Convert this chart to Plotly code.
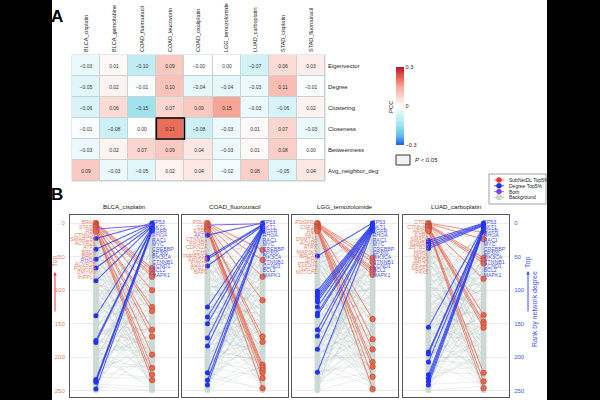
import plotly.graph_objects as go
import numpy as np

W, H = 600, 400
def px(x): return x / W
def py(y): return 1 - y / H

# ---------------- Panel A data ----------------
drugs = ["BLCA_cisplatin", "BLCA_gemcitabine", "COAD_fluorouracil", "COAD_leucovorin",
         "COAD_oxaliplatin", "LGG_temozolomide", "LUAD_carboplatin", "STAD_cisplatin",
         "STAD_fluorouracil"]
metrics = ["Eigenvector", "Degree", "Clustering", "Closeness", "Betweenness", "Avg_neighbor_deg"]
pcc_eigenvector = [-0.03, 0.01, -0.10, 0.09, -0.002, 0.00, -0.07, 0.06, 0.03]
pcc_degree = [-0.05, 0.02, -0.01, 0.10, -0.04, -0.04, -0.03, 0.11, -0.01]
pcc_clustering = [-0.06, 0.06, -0.15, 0.07, 0.09, 0.15, -0.03, -0.06, 0.02]
pcc_closeness = [-0.01, -0.08, 0.00, 0.21, -0.08, -0.03, 0.01, 0.07, -0.03]
pcc_betweenness = [-0.03, 0.02, 0.07, 0.09, 0.04, -0.03, 0.01, 0.08, 0.00]
pcc_avg_neighbor_deg = [0.09, -0.03, -0.05, 0.02, 0.04, -0.02, 0.08, -0.05, 0.04]
significant_cells = [("Closeness", "COAD_leucovorin")]
colorbar_ticks = [-0.3, 0, 0.3]

# ---------------- Panel B data ----------------
panel_titles = ["BLCA_cisplatin", "COAD_fluorouracil", "LGG_temozolomide", "LUAD_carboplatin"]
n_genes = 250
rank_ticks = [0, 50, 100, 150, 200, 250]
degree_genes = ["TP53", "AKT1", "EGFR", "RHOA", "RAC1", "MYC", "CREBBP", "EP300",
                "PIK3CA", "CTNNB1", "CCND1", "BCL2", "MAPK1"]

blca_subnet_genes = ["BRAF", "STAG2", "RB1", "CTNND1", "SMARCB1", "ACVR2A", "ATF7", "BRD4",
                     "BRD7", "RHOA", "ACVR1B", "PDGFRA", "ZMYM3", "INPPL1"]
blca_subnet_degree_rank = [67, 71, 76, 80, 100, 125, 131, 159, 169, 3, 196, 216, 226, 234]
blca_degree_subnet_rank = [23, 39, 54, 9, 67, 86, 138, 175, 178, 233, 235, 237, 247]

coad_subnet_genes = ["POLQ", "CSK", "ESR1", "AKT1", "CTNND1", "PIK3R1", "CDKN2A", "CDH1",
                     "TMPRSS2", "ARID1B", "SOX17", "RTEL1", "BAP1"]
coad_subnet_degree_rank = [40, 55, 80, 1, 115, 169, 177, 211, 215, 219, 223, 231, 246]
coad_degree_subnet_rank = [18, 3, 51, 54, 64, 125, 140, 150, 171, 183, 223, 234, 241]

lgg_subnet_genes = ["PDGFRA", "CSF1R", "RET", "FAT1", "DNMT3A", "ACVR1", "ATRX", "MAP3K1",
                    "BRCA2", "IDH1", "PTPN11", "TCF7L2", "NOTCH1"]
lgg_subnet_degree_rank = [52, 58, 67, 70, 73, 77, 143, 173, 188, 207, 214, 229, 247]
lgg_degree_subnet_rank = [49, 101, 105, 109, 113, 117, 125, 134, 138, 159, 168, 188, 222]

luad_subnet_genes = ["CTCF", "CTNNA1", "ARID2", "ESR1", "SMAD4", "KDM5C", "ZBTB20", "MSH2",
                     "MUC6", "BRD4", "RPL22", "SRSF2", "PAX5"]
luad_subnet_degree_rank = [14, 24, 52, 56, 60, 83, 137, 147, 151, 156, 223, 236, 246]
luad_degree_subnet_rank = [26, 29, 32, 35, 38, 155, 192, 195, 207, 226, 231, 236, 241]

# background genes (rank by SubNetDL, rank by degree)
bg_left = [2, 5, 9, 12, 15, 18, 21, 24, 27, 30, 33, 36, 39, 42, 45, 48, 51, 54, 57, 60,
           63, 66, 69, 72, 75, 78, 81, 84, 87, 90, 93, 96, 99, 102, 105, 108, 111, 114,
           117, 120, 123, 126, 129, 132, 135, 138, 141, 144, 147, 150, 153, 156, 159, 162,
           165, 168, 171, 174, 177, 180, 183, 186, 189, 192, 195, 198, 201, 204, 207, 210,
           213, 216, 219, 222, 225, 228, 231, 234, 237, 240, 243, 246, 249]
bg_right = [143, 37, 210, 88, 5, 176, 121, 64, 232, 19, 157, 99, 45, 201, 130, 8, 188, 72,
            246, 111, 28, 165, 53, 219, 94, 139, 12, 183, 60, 227, 105, 151, 33, 197, 80,
            241, 124, 16, 170, 58, 213, 91, 147, 2, 193, 67, 236, 116, 41, 160, 85, 205,
            24, 178, 133, 49, 222, 102, 155, 10, 186, 75, 249, 118, 30, 168, 56, 215, 97,
            142, 21, 191, 63, 230, 108, 148, 36, 199, 82, 244, 127, 14, 173]

legend_labels = ["SubNetDL Top5%", "Degree Top5%", "Both", "Background"]

# ---------------- styles ----------------
FONT = "Liberation Sans, Arial, sans-serif"
salmon = "#E57F6B"
blue_txt = "#4753E8"
purple = "#8B5CF6"
red_fill = "#E8674F"
red_edge = "#B9472F"
blue_fill = "#2233EE"
red_line = "rgba(236,108,84,0.78)"
blue_line = "rgba(45,62,240,0.80)"
bg_line = "rgba(170,186,182,0.45)"
pillar = "#CDD9D5"

def ann(text, x, y, size=6, color="#222", angle=0, xanchor="center", **kw):
    d = dict(text=text, x=x, y=y, xref="paper", yref="paper", showarrow=False,
             xanchor=xanchor, yanchor="middle", textangle=angle,
             font=dict(size=size, color=color, family=FONT))
    d.update(kw)
    return d

fig = go.Figure()

# ---------------- Panel A ----------------
pcc = [pcc_eigenvector, pcc_degree, pcc_clustering, pcc_closeness, pcc_betweenness,
       pcc_avg_neighbor_deg]
txt = [[f"{v:.2f}".replace("-", "\u2212") for v in row] for row in pcc]
cscale = [[0.0, "#1F5CF5"], [0.12, "#5CC0EE"], [0.25, "#A0E3EF"], [0.5, "#FFFFFF"],
          [0.75, "#F7A597"], [0.87, "#E8604C"], [1.0, "#B2182B"]]
fig.add_trace(go.Heatmap(
    z=pcc, x=drugs, y=metrics, text=txt, texttemplate="%{text}",
    textfont=dict(size=5, color="#333333", family=FONT),
    colorscale=cscale, zmin=-0.3, zmax=0.3, xgap=1, ygap=1, hoverinfo="skip",
    colorbar=dict(x=px(396), xanchor="left", y=py(106), yanchor="middle",
                  len=78, lenmode="pixels", thickness=8, thicknessmode="pixels",
                  xpad=0, ypad=0, outlinewidth=0, ticks="",
                  tickvals=colorbar_ticks,
                  ticktext=[f"{t:g}".replace("-", "\u2212") for t in colorbar_ticks],
                  tickfont=dict(size=5.5, color="#222", family=FONT)),
    xaxis="x", yaxis="y"))

shapes = [
    dict(type="rect", xref="paper", yref="paper", x0=px(52), x1=px(547), y0=0, y1=1,
         fillcolor="white", line=dict(width=0), layer="below"),
    dict(type="rect", xref="x domain", yref="y domain", x0=0, x1=1, y0=0, y1=1,
         fillcolor="#C9D2D2", line=dict(color="#C9D2D2", width=1), layer="below"),
    dict(type="rect", xref="paper", yref="paper", x0=px(396), x1=px(410), y0=py(165),
         y1=py(155), fillcolor="#F2F2F2", line=dict(color="#333", width=1)),
]
for m, d in significant_cells:
    ci, ri = drugs.index(d), metrics.index(m)
    shapes.append(dict(type="rect", xref="x", yref="y", x0=ci - 0.5, x1=ci + 0.5,
                       y0=ri - 0.5, y1=ri + 0.5, line=dict(color="black", width=1.6)))

layout = dict(
    width=W, height=H, margin=dict(l=0, r=0, t=0, b=0),
    paper_bgcolor="black", plot_bgcolor="white", showlegend=False,
    font=dict(family=FONT, size=6, color="#222"),
    xaxis=dict(domain=[px(72), px(325)], anchor="y", side="top", tickangle=-90,
               tickfont=dict(size=5.5), showgrid=False, zeroline=False, ticks="",
               ticklabelstandoff=2),
    yaxis=dict(domain=[py(181), py(55)], anchor="x", side="right", autorange="reversed",
               tickfont=dict(size=6), showgrid=False, zeroline=False, ticks="",
               ticklabelstandoff=2),
)

annotations = [
    ann("<b>A</b>", px(57), py(16), size=17, color="black"),
    ann("<b>B</b>", px(57), py(194), size=17, color="black"),
    ann("PCC", px(391), py(106), size=6, angle=-90),
    ann("<i>P</i> < 0.05", px(413), py(160), size=6, xanchor="left"),
]

# ---------------- Panel B ----------------
XL, XR = 0.24, 0.76
boxes = [(70, 178), (182, 288), (292, 398), (403, 509)]
panel_data = [
    (blca_subnet_genes, blca_subnet_degree_rank, blca_degree_subnet_rank),
    (coad_subnet_genes, coad_subnet_degree_rank, coad_degree_subnet_rank),
    (lgg_subnet_genes, lgg_subnet_degree_rank, lgg_degree_subnet_rank),
    (luad_subnet_genes, luad_subnet_degree_rank, luad_degree_subnet_rank),
]
L = np.array(bg_left)
R = np.array(bg_right)

for k, (title, (sub_genes, sub_deg, deg_sub), (b0, b1)) in enumerate(
        zip(panel_titles, panel_data, boxes)):
    xa, ya = f"x{k + 2}", f"y{k + 2}"
    # background genes
    pairs = list(zip(L, np.roll(R, 11 * k))) + list(zip(np.roll(R, 5 * k + 3), L))
    gx, gy = [], []
    for a, b in pairs:
        gx += [XL, XR, None]
        gy += [int(a), int(b), None]
    fig.add_trace(go.Scatter(x=gx, y=gy, mode="lines+markers",
                             line=dict(color=bg_line, width=0.5),
                             marker=dict(size=5.5, color=pillar, line=dict(width=0)),
                             xaxis=xa, yaxis=ya, hoverinfo="skip"))
    # SubNetDL top
    rx, ry = [], []
    for i, g in enumerate(sub_genes):
        if g in degree_genes:
            continue
        rx += [XL, XR, None]
        ry += [i, sub_deg[i], None]
    fig.add_trace(go.Scatter(x=rx, y=ry, mode="lines+markers",
                             line=dict(color=red_line, width=1),
                             marker=dict(size=5.5, color=red_fill,
                                         line=dict(color=red_edge, width=0.6)),
                             xaxis=xa, yaxis=ya, hoverinfo="skip"))
    # Degree top
    bx, by = [], []
    for j, g in enumerate(degree_genes):
        if g in sub_genes:
            continue
        bx += [XL, XR, None]
        by += [deg_sub[j], j, None]
    fig.add_trace(go.Scatter(x=bx, y=by, mode="lines+markers",
                             line=dict(color=blue_line, width=1.1),
                             marker=dict(size=5, color=blue_fill, line=dict(width=0)),
                             xaxis=xa, yaxis=ya, hoverinfo="skip"))
    # Both
    qx, qy = [], []
    for j, g in enumerate(degree_genes):
        if g in sub_genes:
            qx += [XL, XR, None]
            qy += [sub_genes.index(g), j, None]
    if qx:
        fig.add_trace(go.Scatter(x=qx, y=qy, mode="lines",
                                 line=dict(color=purple, width=1),
                                 xaxis=xa, yaxis=ya, hoverinfo="skip"))
    # labels
    fig.add_trace(go.Scatter(
        x=[XL] * len(sub_genes), y=[i * 6.2 for i in range(len(sub_genes))],
        text=sub_genes, mode="text", textposition="middle left",
        textfont=dict(size=5.3, family=FONT,
                      color=[purple if g in degree_genes else salmon for g in sub_genes]),
        xaxis=xa, yaxis=ya, hoverinfo="skip"))
    fig.add_trace(go.Scatter(
        x=[XR] * len(degree_genes), y=[j * 6.5 for j in range(len(degree_genes))],
        text=degree_genes, mode="text", textposition="middle right",
        textfont=dict(size=5.3, family=FONT,
                      color=[purple if g in sub_genes else blue_txt for g in degree_genes]),
        xaxis=xa, yaxis=ya, hoverinfo="skip"))

    layout[f"xaxis{k + 2}"] = dict(domain=[px(b0), px(b1)], anchor=ya, range=[0, 1],
                                   showticklabels=False, showgrid=False, zeroline=False,
                                   showline=True, mirror=True, linecolor="#555",
                                   linewidth=1, ticks="")
    layout[f"yaxis{k + 2}"] = dict(domain=[py(397), py(215)], anchor=xa,
                                   range=[n_genes + 9, -12], tickvals=rank_ticks,
                                   showgrid=True, gridcolor="#EBEBEB", gridwidth=0.6,
                                   zeroline=False, showline=True, mirror=True,
                                   linecolor="#555", linewidth=1, ticks="",
                                   showticklabels=(k in (0, 3)),
                                   side="right" if k == 3 else "left",
                                   tickfont=dict(size=6, color=salmon if k == 0 else blue_txt),
                                   ticklabelstandoff=3)
    annotations.append(ann(title, px((b0 + b1) / 2), py(207), size=6.2, color="#111"))

# axis titles / arrows
annotations += [
    ann("Top", px(55), py(261), size=7, color=salmon, angle=-90),
    dict(text="", x=px(55), y=py(272), xref="paper", yref="paper", ax=0, ay=41,
         axref="pixel", ayref="pixel", showarrow=True, arrowhead=2, arrowsize=0.7,
         arrowwidth=1, arrowcolor="#EE3B3B"),
    ann("Top", px(528), py(263), size=7, color=blue_txt, angle=-90),
    dict(text="", x=px(528), y=py(271), xref="paper", yref="paper", ax=0, ay=42,
         axref="pixel", ayref="pixel", showarrow=True, arrowhead=2, arrowsize=0.7,
         arrowwidth=1, arrowcolor="#3B4CF0"),
    ann("Rank by network degree", px(535), py(309), size=7, color=blue_txt, angle=-90),
]

# ---------------- manual legend ----------------
layout["xaxis6"] = dict(domain=[px(489), px(546)], anchor="y6", range=[0, 57], visible=False)
layout["yaxis6"] = dict(domain=[py(204), py(174)], anchor="x6", range=[30, 0], visible=False)
leg_line_colors = ["#F28C7C", "#6070F5", "#A585F7", "#C8D2D0"]
leg_marker_colors = ["#EE3030", "#1F2FEE", "#8040F0", "#D5DDDB"]
leg_y = [6, 11.8, 17.6, 23.4]
for lab, lc, mc, yy in zip(legend_labels, leg_line_colors, leg_marker_colors, leg_y):
    fig.add_trace(go.Scatter(x=[5, 15], y=[yy, yy], mode="lines",
                             line=dict(color=lc, width=1.2), xaxis="x6", yaxis="y6",
                             hoverinfo="skip"))
    fig.add_trace(go.Scatter(x=[10], y=[yy], mode="markers",
                             marker=dict(size=5, color=mc,
                                         line=dict(color="#A0A8A8" if lab == "Background" else mc,
                                                   width=0.5)),
                             xaxis="x6", yaxis="y6", hoverinfo="skip"))
    annotations.append(dict(text=lab, x=18, y=yy, xref="x6", yref="y6", xanchor="left",
                            yanchor="middle", showarrow=False,
                            font=dict(size=5, color="#222", family=FONT)))
shapes.append(dict(type="rect", xref="paper", yref="paper", x0=px(489), x1=px(546),
                   y0=py(204), y1=py(174), line=dict(color="#888", width=0.8)))

layout["shapes"] = shapes
layout["annotations"] = annotations
fig.update_layout(**layout)
fig.write_html("out.html", config={"displayModeBar": False},
               post_script="document.body.style.margin='0';document.body.style.background='black';")
